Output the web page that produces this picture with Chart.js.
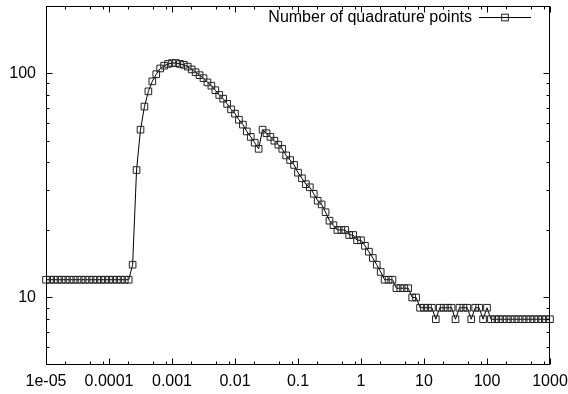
<!DOCTYPE html>
<html>
<head>
<meta charset="utf-8">
<script src="https://cdn.jsdelivr.net/npm/chart.js@4/dist/chart.umd.min.js"></script>
<style>
html,body{margin:0;padding:0;background:#fff;}
#wrap{width:568px;height:394px;position:relative;}
</style>
</head>
<body>
<div id="wrap"><canvas id="c" width="568" height="394"></canvas></div>
<script>
// ---- data ----
const seriesLabel = "Number of quadrature points";
const xValues = [
  1.000e-5,1.155e-5,1.334e-5,1.540e-5,1.778e-5,2.054e-5,2.371e-5,2.738e-5,3.162e-5,3.652e-5,4.217e-5,4.870e-5,5.623e-5,6.494e-5,7.499e-5,8.660e-5,
  1.000e-4,1.155e-4,1.334e-4,1.540e-4,1.778e-4,2.054e-4,2.371e-4,2.738e-4,3.162e-4,3.652e-4,4.217e-4,4.870e-4,5.623e-4,6.494e-4,7.499e-4,8.660e-4,
  1.000e-3,1.155e-3,1.334e-3,1.540e-3,1.778e-3,2.054e-3,2.371e-3,2.738e-3,3.162e-3,3.652e-3,4.217e-3,4.870e-3,5.623e-3,6.494e-3,7.499e-3,8.660e-3,
  1.000e-2,1.155e-2,1.334e-2,1.540e-2,1.778e-2,2.054e-2,2.371e-2,2.738e-2,3.162e-2,3.652e-2,4.217e-2,4.870e-2,5.623e-2,6.494e-2,7.499e-2,8.660e-2,
  1.000e-1,1.155e-1,1.334e-1,1.540e-1,1.778e-1,2.054e-1,2.371e-1,2.738e-1,3.162e-1,3.652e-1,4.217e-1,4.870e-1,5.623e-1,6.494e-1,7.499e-1,8.660e-1,
  1.000,1.155,1.334,1.540,1.778,2.054,2.371,2.738,3.162,3.652,4.217,4.870,5.623,6.494,7.499,8.660,
  10.00,11.55,13.34,15.40,17.78,20.54,23.71,27.38,31.62,36.52,42.17,48.70,56.23,64.94,74.99,86.60,
  100.0,115.5,133.4,154.0,177.8,205.4,237.1,273.8,316.2,365.2,421.7,487.0,562.3,649.4,749.9,866.0,
  1000
];
const yValues = [
  12,12,12,12,12,12,12,12,12,12,12,12,12,12,12,12,
  12,12,12,12,12,12,14,37,56,71,83,92,99,105,108,110,
  111,111,110,109,107,104,101,98,95,91,88,84,80,77,73,69,
  66,62,59,55,52,49,46,56,54,52,50,48,46,43,41,39,
  36,34,32,31,29,27,26,24,22,21,20,20,20,19,19,18,
  18,17,16,15,14,13,12,12,12,11,11,11,11,10,10,9,
  9,9,9,8,9,9,9,9,8,9,9,9,8,9,9,8,
  9,8,8,8,8,8,8,8,8,8,8,8,8,8,8,8,
  8
];
const xTickValues = [1e-5,1e-4,1e-3,1e-2,1e-1,1,10,100,1000];
const xTickLabels = ["1e-05","0.0001","0.001","0.01","0.1","1","10","100","1000"];
const yTickValues = [10,100];
const yTickLabels = ["10","100"];
const xMinorMult = [2,5,8];
const yMinorMult = [2,3,4,5,6,7,8,9];

const FONT = "'Liberation Sans', Arial, Helvetica, sans-serif";
const FS = 16;
const PR = 4.7;

const points = xValues.map((x,i)=>({x:x, y:yValues[i]}));

const framePlugin = {
  id:'frame',
  afterDatasetsDraw(chart){
    const ctx = chart.ctx;
    const a = chart.chartArea;
    const xs = chart.scales.x, ys = chart.scales.y;
    const L = Math.round(a.left)+0.5, R = Math.round(a.right)-0.5;
    const T = Math.round(a.top)+0.5, B = Math.round(a.bottom)-0.5;
    ctx.save();
    ctx.strokeStyle = '#000';
    ctx.lineWidth = 1;
    ctx.strokeRect(L, T, R-L, B-T);
    ctx.beginPath();
    const major = 6, minor = 3;
    const xt = (v,len)=>{
      const p = Math.round(xs.getPixelForValue(v))+0.5;
      ctx.moveTo(p,B); ctx.lineTo(p,B-len);
      ctx.moveTo(p,T); ctx.lineTo(p,T+len);
    };
    xTickValues.forEach(v=>xt(v,major));
    xTickValues.forEach(v=>xMinorMult.forEach(m=>{const w=v*m; if(w>xs.min && w<xs.max) xt(w,minor);}));
    const yt = (v,len)=>{
      const p = Math.round(ys.getPixelForValue(v))+0.5;
      ctx.moveTo(L,p); ctx.lineTo(L+len,p);
      ctx.moveTo(R,p); ctx.lineTo(R-len,p);
    };
    yTickValues.forEach(v=>yt(v,major));
    [1,10,100].forEach(d=>yMinorMult.forEach(m=>{const w=d*m; if(w>ys.min && w<ys.max) yt(w,minor);}));
    ctx.stroke();
    // legend (gnuplot style)
    const ds = chart.data.datasets[0];
    const ly = 17.5;
    ctx.fillStyle = '#000';
    ctx.font = FS + "px " + FONT;
    ctx.textAlign = 'right';
    ctx.textBaseline = 'middle';
    ctx.fillText(ds.label, 472, ly);
    ctx.beginPath();
    ctx.moveTo(479, ly); ctx.lineTo(531, ly);
    ctx.stroke();
    const s = Math.SQRT1_2 * PR;
    ctx.strokeStyle = '#222';
    ctx.strokeRect(505 - s, ly - s, 2*s, 2*s);
    ctx.restore();
  }
};

new Chart(document.getElementById('c'), {
  type:'line',
  data:{
    datasets:[{
      label: seriesLabel,
      data: points,
      borderColor:'#000',
      borderWidth:1,
      backgroundColor:'rgba(0,0,0,0)',
      pointStyle:'rect',
      pointRadius:PR,
      pointBorderWidth:1,
      pointBorderColor:'#222',
      pointBackgroundColor:'rgba(0,0,0,0)',
      tension:0,
      clip:false,
      fill:false
    }]
  },
  options:{
    responsive:false,
    animation:false,
    devicePixelRatio:1,
    layout:{padding:{left:0,right:18,top:5,bottom:0}},
    plugins:{legend:{display:false},tooltip:{enabled:false}},
    scales:{
      x:{
        type:'logarithmic',
        min:1e-5, max:1000,
        grid:{display:false, drawTicks:false},
        border:{display:false},
        afterBuildTicks:(s)=>{ s.ticks = xTickValues.map(v=>({value:v})); },
        afterFit:(s)=>{ s.height = 29; s.paddingLeft = 0; s.paddingRight = 0; },
        ticks:{
          autoSkip:false, maxRotation:0, minRotation:0,
          padding:7, color:'#000',
          font:{family:FONT, size:FS},
          callback:(v,i)=>xTickLabels[i]
        }
      },
      y:{
        type:'logarithmic',
        min:5, max:200,
        grid:{display:false, drawTicks:false},
        border:{display:false},
        afterBuildTicks:(s)=>{ s.ticks = yTickValues.map(v=>({value:v})); },
        afterFit:(s)=>{ s.width = 46; s.paddingTop = 0; s.paddingBottom = 0; },
        ticks:{
          padding:10, color:'#000',
          font:{family:FONT, size:FS},
          callback:(v,i)=>yTickLabels[i]
        }
      }
    }
  },
  plugins:[framePlugin]
});
</script>
</body>
</html>
